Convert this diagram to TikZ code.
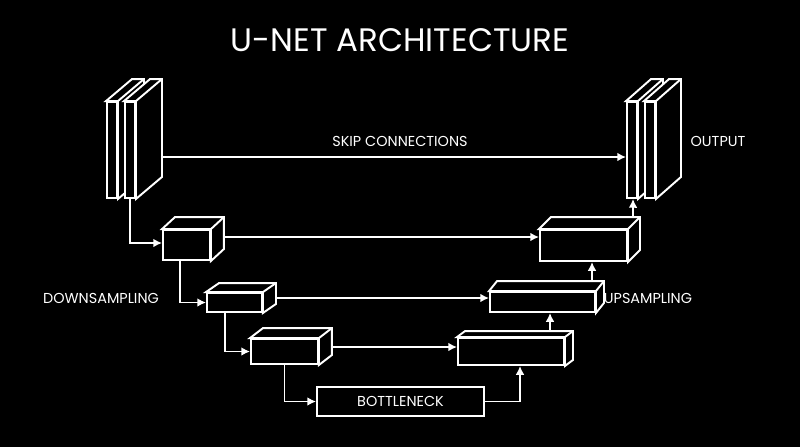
\documentclass[tikz,border=0pt]{standalone}
\usepackage{fontspec}
\setmainfont{Poppins}
\usetikzlibrary{calc,arrows.meta}
\tikzset{
  face/.style={draw=white,line width=1.1pt,fill=black,inner sep=0pt,rectangle},
  arr/.style={draw=white,line width=1.1pt,-{Latex[length=5pt,width=5pt]}},
  lbl/.style={text=white,font=\fontsize{8.2}{10}\selectfont},
}
% back edges of a box: node, dx, dy (in px)
\newcommand{\depthbox}[3]{%
  \filldraw[draw=white,fill=black,line width=1.1pt,line join=miter] (#1.north west) -- ++(#2,#3) -- ($(#1.north east)+(#2,#3)$) -- ($(#1.south east)+(#2,#3)$) -- (#1.south east) -- (#1.north east) -- cycle;
  \draw[white,line width=1.1pt] (#1.north east) -- ++(#2,#3);}
\begin{document}
\begin{tikzpicture}[x={(0.02cm,0)},y={(0,-0.02cm)}]
\fill[black] (0,0) rectangle (800,447);
\useasboundingbox (0,0) rectangle (800,447);
\node[text=white,font=\fontsize{18.5}{22}\selectfont] (title) at (400,40) {U-NET ARCHITECTURE};
% input and output layers
\node[face,minimum width=0.2cm,minimum height=1.92cm] (in1) at (112,150) {};
\depthbox{in1}{26}{-22}
\node[face,minimum width=0.2cm,minimum height=1.92cm] (in2) at (130,150) {};
\depthbox{in2}{26}{-22}
\node[face,minimum width=0.2cm,minimum height=1.92cm] (out1) at (632,150) {};
\depthbox{out1}{25}{-22}
\node[face,minimum width=0.2cm,minimum height=1.92cm] (out2) at (650,150) {};
\depthbox{out2}{25}{-22}
% encoder
\node[face,minimum width=0.94cm,minimum height=0.6cm] (d1) at (186.5,245) {};
\depthbox{d1}{13}{-12}
\node[face,minimum width=1.1cm,minimum height=0.38cm] (d2) at (234.5,302.5) {};
\depthbox{d2}{13}{-9}
\node[face,minimum width=1.34cm,minimum height=0.5cm] (d3) at (284.5,351.5) {};
\depthbox{d3}{13}{-10}
\node[face,minimum width=3.34cm,minimum height=0.58cm,lbl] (bn) at (400.5,401.5) {BOTTLENECK};
% decoder
\node[face,minimum width=2.12cm,minimum height=0.54cm] (u3) at (511,351.5) {};
\depthbox{u3}{8}{-6}
\node[face,minimum width=2.1cm,minimum height=0.4cm] (u2) at (542.5,302) {};
\depthbox{u2}{8}{-10}
\node[face,minimum width=1.74cm,minimum height=0.62cm] (u1) at (583.5,245.5) {};
\depthbox{u1}{12}{-12}
% connections
\draw[arr] ([xshift=0.5cm,yshift=-0.14cm]in2.east) -- ([yshift=-0.14cm]out1.west);
\draw[arr] (in2.south) |- ([yshift=0.04cm]d1.west);
\draw[arr] ([xshift=-0.13cm]d1.south) |- (d2.west);
\draw[arr] ([xshift=-0.19cm]d2.south) |- (d3.west);
\draw[arr] (d3.south) |- (bn.west);
\draw[arr] (bn.east) -| ([xshift=0.18cm]u3.south);
\draw[arr] ([xshift=0.78cm,yshift=0.12cm]u3.north) -- ([xshift=0.15cm]u2.south);
\draw[arr] ([xshift=0.99cm,yshift=0.2cm]u2.north) -- ([xshift=0.17cm]u1.south);
\draw[arr] ([xshift=0.99cm,yshift=0.24cm]u1.north) -- ([xshift=0.02cm]out1.south);
\draw[arr] ([xshift=0.26cm,yshift=0.16cm]d1.east) -- ([yshift=0.17cm]u1.west);
\draw[arr] ([xshift=0.26cm,yshift=0.09cm]d2.east) -- ([yshift=0.08cm]u2.west);
\draw[arr] ([xshift=0.26cm,yshift=0.09cm]d3.east) -- ([yshift=0.09cm]u3.west);
% labels
\node[lbl] (skip) at (400,141) {SKIP CONNECTIONS};
\node[lbl] (out) at (718,141) {OUTPUT};
\node[lbl] (down) at (101,298) {DOWNSAMPLING};
\node[lbl] (up) at (648,298) {UPSAMPLING};
\end{tikzpicture}
\end{document}
